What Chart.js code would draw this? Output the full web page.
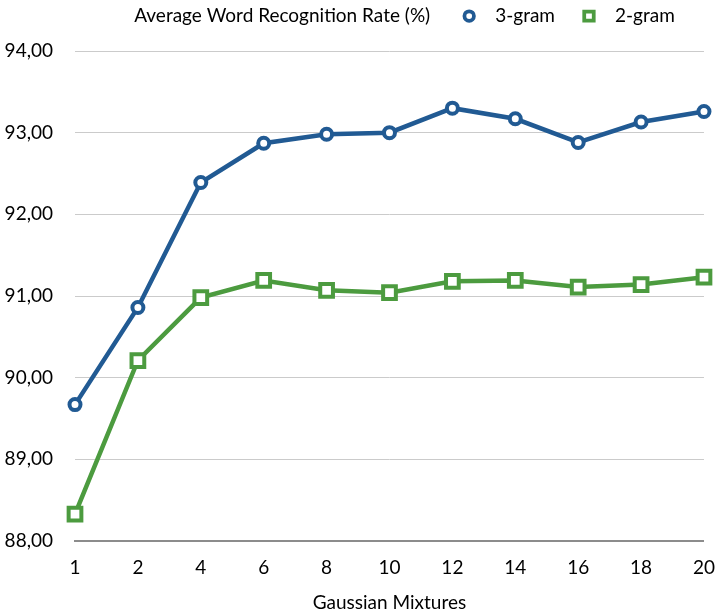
<!DOCTYPE html>
<html>
<head>
<meta charset="utf-8">
<script src="https://cdn.jsdelivr.net/npm/chart.js@4.4.1/dist/chart.umd.min.js"></script>
<style>
  html, body { margin: 0; padding: 0; background: #ffffff; }
  #wrap { width: 722px; height: 615px; }
</style>
</head>
<body>
<div id="wrap"><canvas id="chart" width="722" height="615"></canvas></div>
<script>
// Gaussian mixture counts along the x axis
const categories = ['1', '2', '4', '6', '8', '10', '12', '14', '16', '18', '20'];
// Average word recognition rate (%) for each language model
const trigramRate = [89.67, 90.86, 92.39, 92.87, 92.98, 93.00, 93.30, 93.17, 92.88, 93.13, 93.26];
const bigramRate  = [88.33, 90.21, 90.98, 91.19, 91.07, 91.04, 91.18, 91.19, 91.11, 91.14, 91.23];
const seriesNames = ['3-gram', '2-gram'];
// Value axis labels, bottom to top
const yTickLabels = ['88,00', '89,00', '90,00', '91,00', '92,00', '93,00', '94,00'];
const headerTitle = 'Average Word Recognition Rate (%)';
const xAxisTitle = 'Gaussian Mixtures';

const FONT = 'Lato, "Open Sans", sans-serif';
const FONT_SIZE = 19;
const TEXT = '#000000';
const BLUE = '#215a93';
const GREEN = '#4c9b3f';
const Y_MIN = 88, Y_MAX = 94;

// Header line: chart title followed by one marker + name per series
const headerPlugin = {
  id: 'headerLine',
  afterDraw(chart) {
    const ctx = chart.ctx;
    const area = chart.chartArea;
    const sets = chart.data.datasets;
    ctx.save();
    ctx.font = FONT_SIZE + 'px ' + FONT;
    ctx.textBaseline = 'middle';
    ctx.textAlign = 'left';
    const gapTitle = 39, gapText = 26, gapItem = 34;
    const titleW = ctx.measureText(headerTitle).width;
    const widths = sets.map(d => ctx.measureText(d.label).width);
    let total = titleW;
    widths.forEach((w, i) => { total += (i === 0 ? gapTitle : gapItem) + gapText + w; });
    const cy = 16;
    let x = (area.left + area.right) / 2 + 15 - total / 2;
    ctx.fillStyle = TEXT;
    ctx.fillText(headerTitle, x, cy);
    x += titleW;
    sets.forEach((d, i) => {
      const mx = x + (i === 0 ? gapTitle : gapItem);
      ctx.lineWidth = 3.75;
      ctx.strokeStyle = d.borderColor;
      ctx.fillStyle = '#ffffff';
      ctx.beginPath();
      if (d.pointStyle === 'rect') {
        ctx.rect(mx - 4.75, cy - 4.5, 9.5, 9);
      } else {
        ctx.arc(mx, cy, 4.75, 0, Math.PI * 2);
      }
      ctx.fill();
      ctx.stroke();
      ctx.fillStyle = TEXT;
      ctx.fillText(d.label, mx + gapText, cy);
      x = mx + gapText + widths[i];
    });
    ctx.restore();
  }
};

const axisFont = { family: FONT, size: FONT_SIZE };

new Chart(document.getElementById('chart'), {
  type: 'line',
  data: {
    labels: categories,
    datasets: [
      {
        label: seriesNames[0],
        data: trigramRate,
        borderColor: BLUE,
        backgroundColor: '#ffffff',
        borderWidth: 4.5,
        pointStyle: 'circle',
        pointRadius: 5.5,
        pointBorderWidth: 4,
        pointBackgroundColor: '#ffffff',
        pointBorderColor: BLUE,
        tension: 0,
        clip: false
      },
      {
        label: seriesNames[1],
        data: bigramRate,
        borderColor: GREEN,
        backgroundColor: '#ffffff',
        borderWidth: 4.5,
        pointStyle: 'rect',
        pointRadius: 9,
        pointBorderWidth: 4,
        pointBackgroundColor: '#ffffff',
        pointBorderColor: GREEN,
        tension: 0,
        clip: false
      }
    ]
  },
  options: {
    responsive: false,
    animation: false,
    devicePixelRatio: 1,
    events: [],
    layout: { padding: { top: 51, right: 11, bottom: 0, left: 0 } },
    plugins: {
      legend: { display: false },
      tooltip: { enabled: false }
    },
    scales: {
      x: {
        type: 'category',
        offset: false,
        grid: { display: false },
        border: { display: true, color: '#8c8c8c', width: 2 },
        ticks: {
          color: TEXT,
          font: axisFont,
          padding: 7,
          maxRotation: 0,
          autoSkip: false
        },
        title: {
          display: true,
          text: xAxisTitle,
          color: TEXT,
          font: axisFont,
          padding: { top: 0, bottom: 1 }
        },
        afterFit(scale) { scale.height = 74; }
      },
      y: {
        min: Y_MIN,
        max: Y_MAX,
        grid: { color: '#cbcbcb', lineWidth: 1, drawTicks: false },
        border: { display: false },
        ticks: {
          stepSize: 1,
          padding: 22,
          color: TEXT,
          font: axisFont,
          callback: (v) => yTickLabels[Math.round(v - Y_MIN)]
        },
        afterFit(scale) { scale.width = 75; }
      }
    }
  },
  plugins: [headerPlugin]
});
</script>
</body>
</html>
